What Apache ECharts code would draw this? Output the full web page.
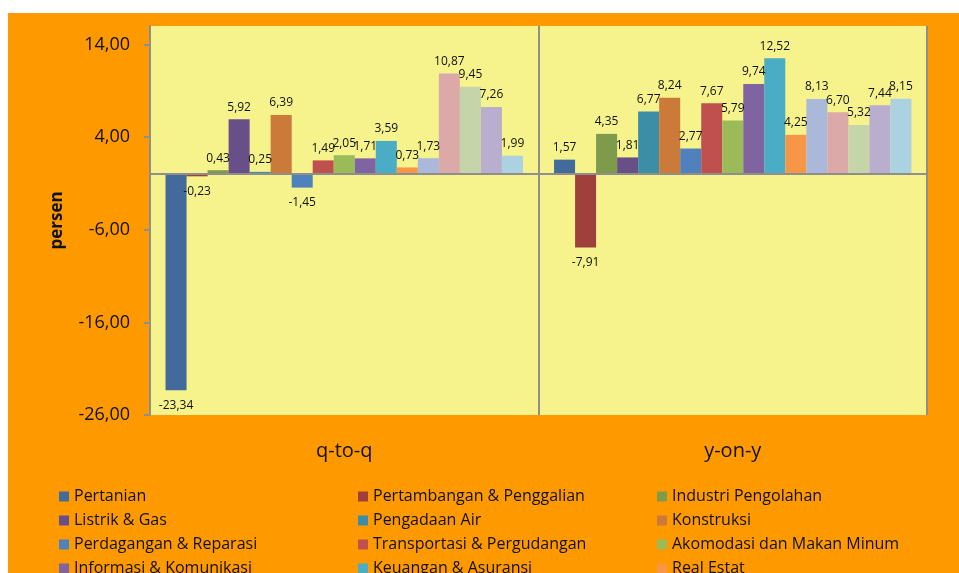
<!DOCTYPE html>
<html>
<head>
<meta charset="UTF-8">
<title>PDRB q-to-q dan y-on-y</title>
<script src="https://cdn.jsdelivr.net/npm/echarts@6/dist/echarts.min.js"></script>
<style>
  body { margin: 0; background: #fff; }
  #main { position: absolute; left: 8px; top: 13px; width: 951px; height: 560px; }
</style>
</head>
<body>
<div id="main"></div>
<script>
// kategori sumbu x
var categories = ['q-to-q', 'y-on-y'];

// lapangan usaha (urutan seri)
var sectors = [
  'Pertanian', 'Pertambangan & Penggalian', 'Industri Pengolahan',
  'Listrik & Gas', 'Pengadaan Air', 'Konstruksi',
  'Perdagangan & Reparasi', 'Transportasi & Pergudangan', 'Akomodasi dan Makan Minum',
  'Informasi & Komunikasi', 'Keuangan & Asuransi', 'Real Estat',
  'Jasa Perusahaan', 'Administrasi Pemerintahan', 'Jasa Pendidikan',
  'Jasa Kesehatan', 'Jasa Lainnya'
];

var qtq = [-23.34, -0.23, 0.43, 5.92, 0.25, 6.39, -1.45, 1.49, 2.05, 1.71, 3.59, 0.73, 1.73, 10.87, 9.45, 7.26, 1.99];
var yoy = [1.57, -7.91, 4.35, 1.81, 6.77, 8.24, 2.77, 7.67, 5.79, 9.74, 12.52, 4.25, 8.13, 6.70, 5.32, 7.44, 8.15];

var colors = [
  '#426A9A', '#A0403D', '#7E9A4B', '#694F87', '#3C8DA6', '#CB7A3A',
  '#4F81BD', '#C0504D', '#9BBB59', '#8064A2', '#4BACC6', '#F79646',
  '#AAB9DA', '#DBA9A8', '#C6D5A9', '#B9AECD', '#ACD1E0'
];

var yTicks = [-26, -16, -6, 4, 14];

var fontFam = '"Open Sans", "Liberation Sans", sans-serif';

function fmt(v) {
  return v.toFixed(2).replace('.', ',');
}

var series = sectors.map(function (name, i) {
  var s = {
    name: name,
    type: 'bar',
    barGap: '0%',
    barCategoryGap: '8%',
    itemStyle: { color: colors[i] },
    label: {
      show: true,
      color: '#111',
      fontSize: 12,
      fontFamily: fontFam,
      formatter: function (p) { return fmt(p.value); }
    },
    data: [qtq[i], yoy[i]].map(function (v) {
      return {
        value: v,
        label: { position: v < 0 ? 'bottom' : 'top', distance: v < 0 ? 9 : 6 }
      };
    })
  };
  if (i === 0) {
    // garis nol
    s.markLine = {
      silent: true,
      symbol: 'none',
      label: { show: false },
      lineStyle: { color: '#8E8E8E', width: 2, type: 'solid' },
      data: [{ yAxis: 0 }]
    };
  }
  return s;
});

// legenda tiga kolom
var colLeft = [46, 345, 644];
var legends = colLeft.map(function (left, c) {
  return {
    orient: 'vertical',
    left: left,
    top: 470,
    height: 220,
    itemWidth: 10,
    itemHeight: 10,
    itemGap: 7,
    itemStyle: { borderWidth: 0 },
    icon: 'rect',
    textStyle: { fontSize: 16, lineHeight: 17, color: '#111', fontFamily: fontFam },
    data: sectors.filter(function (n, i) { return i % 3 === c; })
  };
});

var myChart = echarts.init(document.getElementById('main'));
var option = {
  backgroundColor: '#FF9900',
  animation: false,
  grid: {
    left: 142, right: 32, top: 13, bottom: 158,
    show: true,
    backgroundColor: '#F6F38C',
    borderWidth: 0
  },
  legend: legends,
  xAxis: {
    type: 'category',
    data: categories,
    axisLine: { show: false },
    axisTick: { show: false },
    axisLabel: { fontSize: 20, color: '#111', margin: 26, fontFamily: fontFam },
    splitLine: { show: true, lineStyle: { color: '#8E8E8E', width: 2 } }
  },
  yAxis: {
    type: 'value',
    min: -26,
    max: 16,
    name: 'persen',
    nameLocation: 'middle',
    nameGap: 84,
    nameTextStyle: { fontSize: 17, fontWeight: 'bold', color: '#111', fontFamily: fontFam },
    axisLine: { show: true, lineStyle: { color: '#8E8E8E', width: 2 } },
    axisTick: { show: true, length: 6, customValues: yTicks, lineStyle: { color: '#8E8E8E', width: 2 } },
    axisLabel: {
      customValues: yTicks,
      fontSize: 18,
      color: '#111',
      margin: 20,
      fontFamily: fontFam,
      formatter: function (v) { return fmt(v); }
    },
    splitLine: { show: false }
  },
  series: series
};
myChart.setOption(option, true);
</script>
</body>
</html>
